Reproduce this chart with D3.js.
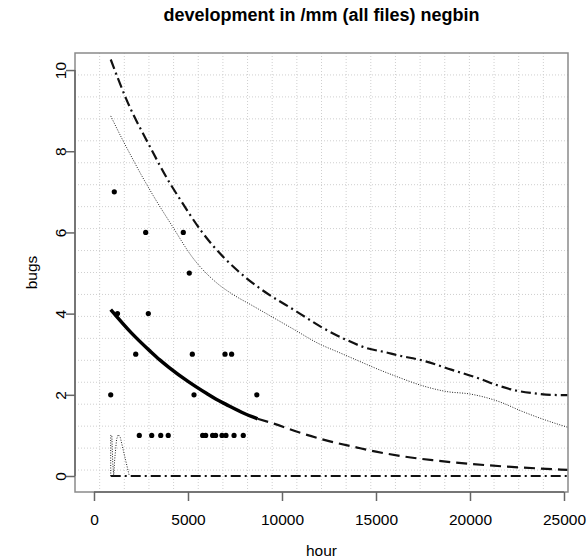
<!DOCTYPE html>
<html>
<head>
<meta charset="utf-8">
<script src="https://cdn.jsdelivr.net/npm/d3@7"></script>
<style>
	body { margin: 0; background: #fff; }
	text { font-family: "Liberation Sans", Arial, sans-serif; }
</style>
</head>
<body>
<script>
// observed files: hours of development and bugs found
var pointHours = [890, 1080, 1250, 2220, 2410, 2750, 2890, 3070, 3550, 3950, 4750, 5070, 5230, 5320,
	5780, 5940, 6310, 6470, 6810, 6970, 7020, 7320, 7450, 7940, 8660];
var pointBugs = [2, 7, 4, 3, 1, 6, 4, 1, 1, 1, 6, 5, 3, 2,
	1, 1, 1, 1, 1, 3, 1, 3, 1, 1, 2];

// fitted mean over the data range (thick solid)
var fitHours = [890, 2000, 3000, 3500, 4000, 5000, 6000, 6500, 7000, 8000, 8700];
var fitBugs = [4.1, 3.52, 3.07, 2.86, 2.67, 2.33, 2.03, 1.89, 1.77, 1.54, 1.41];

// extrapolated mean (dashed)
var extHours = [8700, 9500, 11000, 12500, 14000, 15000, 16500, 18000, 20000, 22000, 23500, 25200];
var extBugs = [1.41, 1.30, 1.06, 0.86, 0.70, 0.60, 0.48, 0.39, 0.30, 0.23, 0.19, 0.15];

// upper bound (dash-dot)
var upperHours = [890, 1740, 2980, 4040, 4490, 5730, 8120, 8830, 10780, 12200, 13440, 14500, 15500,
	16100, 17520, 19000, 20500, 21420, 22500, 23370, 24300, 25200];
var upperBugs = [10.26, 9.26, 8.11, 7.21, 6.88, 6.02, 4.87, 4.62, 4.05, 3.64, 3.35, 3.15, 3.05,
	2.98, 2.84, 2.62, 2.40, 2.24, 2.10, 2.04, 2.0, 1.99];

// middle band (dotted)
var midHours = [890, 1500, 2000, 2500, 3160, 4130, 5280, 6520, 7500, 8300, 8830, 10600, 12000, 13000,
	14000, 15000, 16100, 17500, 18760, 20000, 20710, 21500, 22840, 24000, 25200];
var midBugs = [8.87, 8.3, 7.86, 7.43, 6.9, 6.18, 5.36, 4.76, 4.44, 4.23, 4.09, 3.62, 3.25, 3.05,
	2.85, 2.65, 2.45, 2.22, 2.08, 2.02, 1.95, 1.84, 1.58, 1.38, 1.2];

// small dotted bump near the start
var bumpHours = [890, 890, 950, 1000, 1050, 1100, 1200, 1290, 1400, 1600, 1880];
var bumpBugs = [0, 1.0, 1.0, 0.3, 0, 0.4, 0.9, 1.02, 0.95, 0.55, 0];

// lower bound (dash-dot at zero)
var lowerHours = [890, 25200];
var lowerBugs = [0, 0];

var xTicks = [0, 5000, 10000, 15000, 20000, 25000];
var yTicks = [0, 2, 4, 6, 8, 10];

var W = 587, H = 560;
var plot = {left: 75, right: 568, top: 53, bottom: 492};

var x = d3.scaleLinear().domain([-1010, 25213]).range([plot.left, plot.right]);
var y = d3.scaleLinear().domain([-0.394, 10.42]).range([plot.bottom, plot.top]);

var svg = d3.select("body").append("svg")
	.attr("width", W)
	.attr("height", H);

// dotted grid, 20 equal cells each way
var xd = x.domain(), yd = y.domain();
var gridX = d3.range(1, 20).map(function(i) { return xd[0] + i * (xd[1] - xd[0]) / 20; });
var gridY = d3.range(1, 20).map(function(i) { return yd[0] + i * (yd[1] - yd[0]) / 20; });

svg.append("g").selectAll("line").data(gridX).enter().append("line")
	.attr("x1", function(d) { return x(d); })
	.attr("x2", function(d) { return x(d); })
	.attr("y1", plot.top)
	.attr("y2", plot.bottom)
	.attr("stroke", "#cfcfcf")
	.attr("stroke-dasharray", "1,2");
svg.append("g").selectAll("line").data(gridY).enter().append("line")
	.attr("y1", function(d) { return y(d); })
	.attr("y2", function(d) { return y(d); })
	.attr("x1", plot.left)
	.attr("x2", plot.right)
	.attr("stroke", "#cfcfcf")
	.attr("stroke-dasharray", "1,2");

function pairs(xs, ys) {
	return xs.map(function(v, i) { return [v, ys[i]]; });
}

var line = d3.line()
	.x(function(d) { return x(d[0]); })
	.y(function(d) { return y(d[1]); })
	.curve(d3.curveMonotoneX);

var straight = d3.line()
	.x(function(d) { return x(d[0]); })
	.y(function(d) { return y(d[1]); });

// curves
svg.append("path").datum(pairs(lowerHours, lowerBugs))
	.attr("d", straight).attr("fill", "none").attr("stroke", "#111")
	.attr("stroke-width", 2).attr("stroke-dasharray", "10,4,2,4");
svg.append("path").datum(pairs(bumpHours, bumpBugs))
	.attr("d", straight).attr("fill", "none").attr("stroke", "#222")
	.attr("stroke-width", 1).attr("stroke-dasharray", "1,1.5");
svg.append("path").datum(pairs(midHours, midBugs))
	.attr("d", line).attr("fill", "none").attr("stroke", "#222")
	.attr("stroke-width", 1).attr("stroke-dasharray", "1,1.5");
svg.append("path").datum(pairs(upperHours, upperBugs))
	.attr("d", line).attr("fill", "none").attr("stroke", "#111")
	.attr("stroke-width", 2.2).attr("stroke-dasharray", "10,4,2,4");
svg.append("path").datum(pairs(extHours, extBugs))
	.attr("d", line).attr("fill", "none").attr("stroke", "#111")
	.attr("stroke-width", 2.2).attr("stroke-dasharray", "11,6");
svg.append("path").datum(pairs(fitHours, fitBugs))
	.attr("d", line).attr("fill", "none").attr("stroke", "#000")
	.attr("stroke-width", 3.5);

// points
svg.append("g").selectAll("circle").data(pairs(pointHours, pointBugs)).enter().append("circle")
	.attr("cx", function(d) { return x(d[0]); })
	.attr("cy", function(d) { return y(d[1]); })
	.attr("r", 2.6)
	.attr("fill", "#000");

// box
svg.append("rect")
	.attr("x", plot.left).attr("y", plot.top)
	.attr("width", plot.right - plot.left).attr("height", plot.bottom - plot.top)
	.attr("fill", "none").attr("stroke", "#8a8a8a").attr("stroke-width", 1.5);

// x axis
var xAxis = svg.append("g")
	.attr("transform", "translate(0," + plot.bottom + ")")
	.call(d3.axisBottom(x).tickValues(xTicks).tickSize(9).tickFormat(d3.format("d")));
xAxis.select(".domain").remove();
xAxis.append("line")
	.attr("x1", x(xTicks[0])).attr("x2", x(xTicks[xTicks.length - 1]))
	.attr("stroke", "#666").attr("stroke-width", 1.5);
xAxis.selectAll(".tick line").attr("stroke", "#666").attr("stroke-width", 1.5);
xAxis.selectAll(".tick text")
	.attr("y", 22).attr("dy", "0.71em")
	.attr("fill", "#000").style("font-size", "15.5px").style("font-family", "Liberation Sans, Arial, sans-serif");

// y axis, labels parallel to axis
var yAxis = svg.append("g")
	.attr("transform", "translate(" + plot.left + ",0)")
	.call(d3.axisLeft(y).tickValues(yTicks).tickSize(9));
yAxis.select(".domain").remove();
yAxis.append("line")
	.attr("y1", y(yTicks[0])).attr("y2", y(yTicks[yTicks.length - 1]))
	.attr("stroke", "#666").attr("stroke-width", 1.5);
yAxis.selectAll(".tick line").attr("stroke", "#666").attr("stroke-width", 1.5);
yAxis.selectAll(".tick text")
	.attr("transform", "rotate(-90)")
	.attr("x", 0).attr("y", -9).attr("dy", 0)
	.style("text-anchor", "middle")
	.attr("fill", "#000").style("font-size", "15.5px").style("font-family", "Liberation Sans, Arial, sans-serif");

// title and axis labels
svg.append("text")
	.attr("x", (plot.left + plot.right) / 2)
	.attr("y", 21)
	.style("text-anchor", "middle")
	.style("font-weight", "bold")
	.style("font-size", "18px")
	.text("development in /mm (all files) negbin");

svg.append("text")
	.attr("x", (plot.left + plot.right) / 2)
	.attr("y", 556)
	.style("text-anchor", "middle")
	.style("font-size", "15.5px")
	.text("hour");

svg.append("text")
	.attr("transform", "translate(37," + (plot.top + plot.bottom) / 2 + ") rotate(-90)")
	.style("text-anchor", "middle")
	.style("font-size", "15.5px")
	.text("bugs");
</script>
</body>
</html>
